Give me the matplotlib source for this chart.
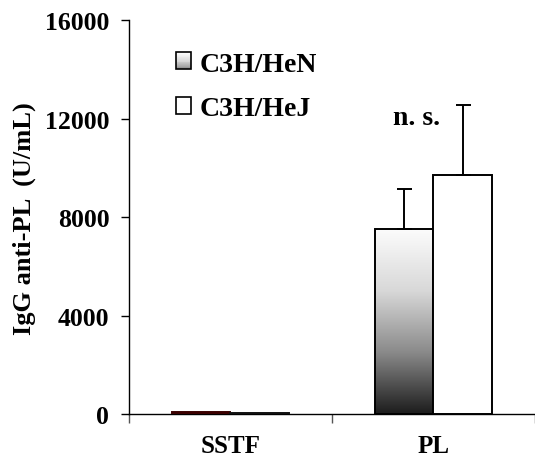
import numpy as np
import matplotlib
matplotlib.use("Agg")
import matplotlib.pyplot as plt
from matplotlib.patches import Rectangle
from matplotlib.legend_handler import HandlerBase
from matplotlib.colors import LinearSegmentedColormap

categories = ["SSTF", "PL"]
series_names = ["C3H/HeN", "C3H/HeJ"]
hen_values = [100, 7500]
hej_values = [50, 9700]
hen_err = [0, 1650]
hej_err = [0, 2850]
yticks = [0, 4000, 8000, 12000, 16000]

plt.rcParams['font.family'] = ['Liberation Serif', 'DejaVu Serif']
plt.rcParams['font.weight'] = 'bold'

fig = plt.figure(figsize=(5.35, 4.64), dpi=100)
L, B, T = 128.7, 415.3, 21.0
ax = fig.add_axes([L/535, (464-B)/464, (535-L)/535, (B-T)/464])

x = np.arange(len(categories))
w = 0.287
cmap = LinearSegmentedColormap.from_list("g", ["#1c1c1c", "#8a8a8a", "#d8d8d8", "#fcfcfc"])

bars_hen = ax.bar(x - w/2, hen_values, w, color="none", edgecolor="black", linewidth=1.4, zorder=3)
bars_hej = ax.bar(x + w/2, hej_values, w, color="white", edgecolor="black", linewidth=1.4, zorder=3)
bars_hen[0].set_facecolor("#5a0a0a")
bars_hen[0].set_edgecolor("#3a0000")
bars_hej[0].set_edgecolor("#111111")

grad = np.linspace(0, 1, 256).reshape(-1, 1)
for b in bars_hen[1:]:
    x0, y0 = b.get_x(), b.get_y()
    bw, bh = b.get_width(), b.get_height()
    im = ax.imshow(grad, cmap=cmap, aspect="auto", origin="lower",
                   extent=[x0, x0 + bw, y0, y0 + bh], zorder=2)
    im.set_clip_path(b)

ax.errorbar([x[1] - w/2], [hen_values[1]], yerr=[[0], [hen_err[1]]], fmt="none",
            ecolor="black", elinewidth=1.4, capsize=5.4, capthick=1.4, zorder=4)
ax.errorbar([x[1] + w/2], [hej_values[1]], yerr=[[0], [hej_err[1]]], fmt="none",
            ecolor="black", elinewidth=1.4, capsize=5.4, capthick=1.4, zorder=4)

ax.set_xlim(-0.5, -0.5 + (535-L)/206)
ax.set_ylim(0, 16000)
ax.set_yticks(yticks)
ax.set_yticklabels([str(t) for t in yticks], fontsize=18.5, fontweight="bold")
ax.set_xticks(x)
ax.set_xticklabels(categories, fontsize=18, fontweight="bold")
ax.set_xticks([-0.5, 0.5, 1.5], minor=True)
ax.tick_params(axis="x", which="major", length=0, pad=14)
ax.tick_params(axis="x", which="minor", length=6.5, width=1, color="#555555")
ax.tick_params(axis="y", which="major", length=6, width=1, pad=8)

for s in ["top", "right"]:
    ax.spines[s].set_visible(False)
ax.spines["left"].set_linewidth(1.0)
ax.spines["bottom"].set_linewidth(1.0)

ax.set_ylabel("IgG anti-PL  (U/mL)", fontsize=19, fontweight="bold", labelpad=6)

ax.text(0.919, 12050, "n. s.", fontsize=20, fontweight="bold", ha="center", va="center")


class GradHandler(HandlerBase):
    def create_artists(self, legend, orig_handle, xdescent, ydescent, width, height, fontsize, trans):
        arts = []
        n = 20
        for i in range(n):
            c = cmap(0.35 + 0.65 * (i / (n - 1)))
            r = Rectangle((-xdescent, -ydescent + height * i / n), width, height / n + 0.2,
                          facecolor=c, edgecolor="none", transform=trans)
            arts.append(r)
        arts.append(Rectangle((-xdescent, -ydescent), width, height, facecolor="none",
                              edgecolor="black", linewidth=1.2, transform=trans))
        return arts


h1 = Rectangle((0, 0), 1, 1, facecolor="gray")
h2 = Rectangle((0, 0), 1, 1, facecolor="white", edgecolor="black", linewidth=1.2)
leg = ax.legend([h1, h2], series_names, handler_map={h1: GradHandler()},
                loc="upper left", bbox_to_anchor=(0.116, 0.92), frameon=False,
                borderpad=0, borderaxespad=0,
                prop={"family": "Liberation Serif", "weight": "bold", "size": 20},
                handlelength=0.55, handleheight=0.55, handletextpad=0.3, labelspacing=0.7)

fig.savefig("out.png", dpi=100)
